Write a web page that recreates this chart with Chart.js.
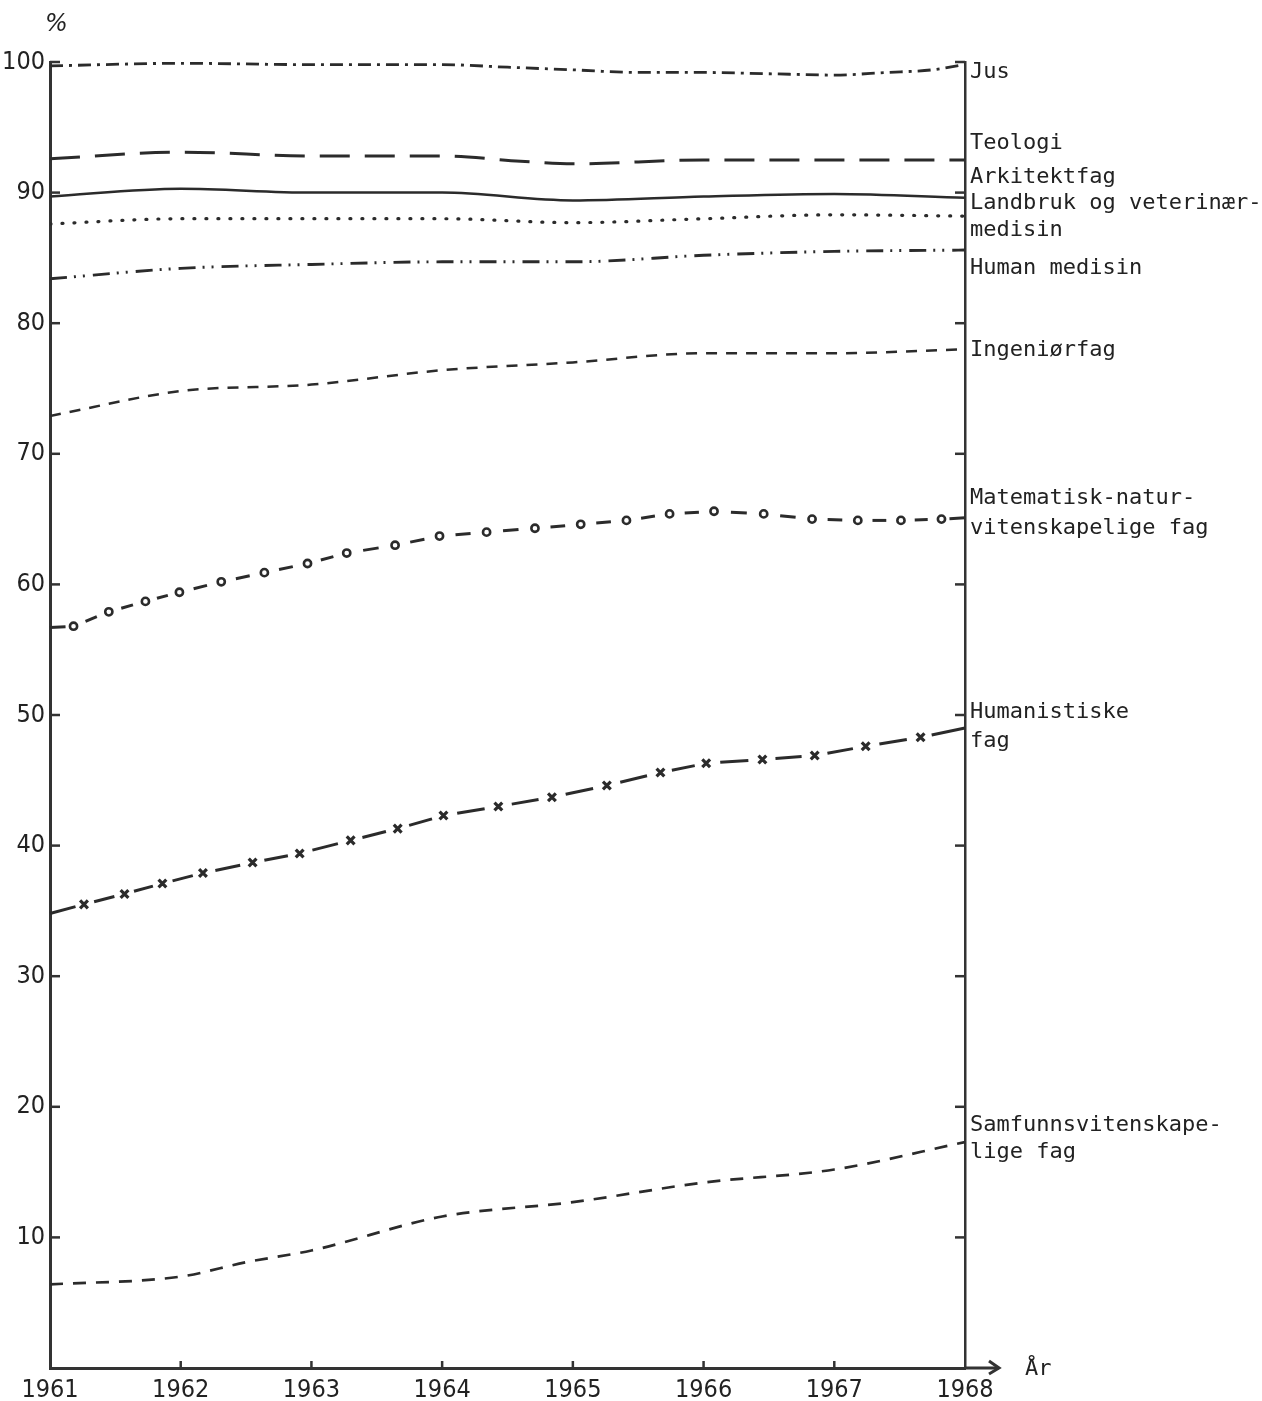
<!DOCTYPE html>
<html><head><meta charset="utf-8">
<script src="https://cdn.jsdelivr.net/npm/chart.js@4"></script>
<style>html,body{margin:0;padding:0;background:#fff;}canvas{display:block}</style>
</head><body>
<canvas id="c" width="1262" height="1401" style="width:1262px;height:1401px"></canvas>
<script>
// ---------- DATA ----------
const xTicks = [1961, 1962, 1963, 1964, 1965, 1966, 1967, 1968];
const yTicks = [10, 20, 30, 40, 50, 60, 70, 80, 90, 100];

const jusYears   = [1961, 1962, 1963, 1964, 1964.5, 1965, 1965.5, 1966, 1966.5, 1967, 1967.4, 1967.75, 1968];
const jusValues  = [99.7, 99.9, 99.8, 99.8, 99.6, 99.4, 99.2, 99.2, 99.1, 99.0, 99.2, 99.4, 99.8];

const teoYears   = [1961, 1962, 1963, 1964, 1964.6, 1965, 1966, 1967, 1968];
const teoValues  = [92.6, 93.1, 92.8, 92.8, 92.4, 92.2, 92.5, 92.5, 92.5];

const arkYears   = [1961, 1962, 1963, 1964, 1965, 1966, 1967, 1968];
const arkValues  = [89.7, 90.3, 90.0, 90.0, 89.4, 89.7, 89.9, 89.6];

const lanYears   = [1961, 1962, 1963, 1964, 1965, 1966, 1967, 1968];
const lanValues  = [87.6, 88.0, 88.0, 88.0, 87.7, 88.0, 88.3, 88.2];

const humMedYears  = [1961, 1962, 1963, 1964, 1965, 1966, 1967, 1968];
const humMedValues = [83.4, 84.2, 84.5, 84.7, 84.7, 85.2, 85.5, 85.6];

const ingYears   = [1961, 1962, 1963, 1964, 1965, 1966, 1967, 1968];
const ingValues  = [72.9, 74.8, 75.3, 76.4, 77.0, 77.7, 77.7, 78.0];

const matYears   = [1961, 1961.18, 1961.45, 1961.73, 1961.99, 1962.31, 1962.64, 1962.97, 1963.27, 1963.64, 1963.98,
                    1964.34, 1964.71, 1965.06, 1965.41, 1965.74, 1966.08, 1966.46, 1966.83, 1967.18, 1967.51, 1967.82, 1968];
const matValues  = [56.7, 56.8, 57.9, 58.7, 59.4, 60.2, 60.9, 61.6, 62.4, 63.0, 63.7,
                    64.0, 64.3, 64.6, 64.9, 65.4, 65.6, 65.4, 65.0, 64.9, 64.9, 65.0, 65.1];

const humYears   = [1961, 1961.26, 1961.57, 1961.86, 1962.17, 1962.55, 1962.91, 1963.30, 1963.66, 1964.01, 1964.43,
                    1964.84, 1965.26, 1965.67, 1966.02, 1966.45, 1966.85, 1967.24, 1967.66, 1968];
const humValues  = [34.8, 35.5, 36.3, 37.1, 37.9, 38.7, 39.4, 40.4, 41.3, 42.3, 43.0,
                    43.7, 44.6, 45.6, 46.3, 46.6, 46.9, 47.6, 48.3, 49.0];

const samYears   = [1961, 1962, 1962.5, 1963, 1964, 1965, 1966, 1967, 1968];
const samValues  = [6.4, 7.0, 8.1, 9.0, 11.6, 12.7, 14.2, 15.2, 17.3];

// right-hand labels (text lines) and the value level each line sits at
const labelLines  = ['Jus', 'Teologi', 'Arkitektfag', 'Landbruk og veterinær-', 'medisin', 'Human medisin',
                     'Ingeniørfag', 'Matematisk-natur-', 'vitenskapelige fag', 'Humanistiske', 'fag',
                     'Samfunnsvitenskape-', 'lige fag'];
const labelLevels = [99.2, 93.8, 91.2, 89.2, 87.1, 84.2, 77.9, 66.6, 64.3, 50.2, 48.0, 18.6, 16.5];

// ---------- BUILD ----------
const INK = '#2b2b2b';
const pts = (xs, ys) => xs.map((x, i) => ({x, y: ys[i]}));
const lineDs = (label, xs, ys, dash, w) => ({
  label, data: pts(xs, ys), borderColor: INK, borderWidth: w || 2.6, borderDash: dash,
  pointRadius: 0, tension: 0.2, cubicInterpolationMode: 'monotone', fill: false
});

const datasets = [
  lineDs('Jus', jusYears, jusValues, [13, 6, 3, 6], 2.8),
  lineDs('Teologi', teoYears, teoValues, [30, 15], 3),
  lineDs('Arkitektfag', arkYears, arkValues, [], 2.5),
  Object.assign(lineDs('Landbruk og veterinærmedisin', lanYears, lanValues, [1, 11], 3.2), {borderCapStyle: 'round'}),
  lineDs('Human medisin', humMedYears, humMedValues, [17, 7, 2, 7, 2, 8], 2.9),
  lineDs('Ingeniørfag', ingYears, ingValues, [11, 9], 2.5),
  {
    label: 'Matematisk-naturvitenskapelige fag', data: pts(matYears, matValues), showLine: false,
    borderColor: INK, backgroundColor: '#fff', pointStyle: 'circle',
    pointRadius: matYears.map((_, i) => (i === 0 || i === matYears.length - 1) ? 0 : 3.6),
    pointBorderWidth: 2.6, gapLine: 0.34
  },
  {
    label: 'Humanistiske fag', data: pts(humYears, humValues), showLine: false,
    borderColor: INK, backgroundColor: INK, pointStyle: 'crossRot',
    pointRadius: humYears.map((_, i) => (i === 0 || i === humYears.length - 1) ? 0 : 5.5),
    pointBorderWidth: 3.2, gapLine: 0.25
  },
  lineDs('Samfunnsvitenskapelige fag', samYears, samValues, [13, 10], 2.7)
];

const gapLines = {
  id: 'gapLines',
  afterDatasetsDraw(chart) {
    const ctx = chart.ctx;
    chart.data.datasets.forEach((ds, di) => {
      if (!ds.gapLine) return;
      const meta = chart.getDatasetMeta(di);
      const pr = ds.pointRadius;
      ctx.save();
      ctx.strokeStyle = INK; ctx.lineWidth = 3; ctx.lineCap = 'butt';
      for (let i = 0; i < meta.data.length - 1; i++) {
        const p0 = meta.data[i], p1 = meta.data[i + 1];
        const t0 = pr[i] ? ds.gapLine : 0;
        const t1 = pr[i + 1] ? 1 - ds.gapLine : 1;
        ctx.beginPath();
        ctx.moveTo(p0.x + (p1.x - p0.x) * t0, p0.y + (p1.y - p0.y) * t0);
        ctx.lineTo(p0.x + (p1.x - p0.x) * t1, p0.y + (p1.y - p0.y) * t1);
        ctx.stroke();
      }
      ctx.restore();
    });
  }
};

const decor = {
  id: 'decor',
  afterDraw(chart) {
    const {ctx, chartArea: a, scales: {x, y}} = chart;
    ctx.save();
    ctx.strokeStyle = '#333'; ctx.lineWidth = 2.5;
    yTicks.forEach(v => {
      const py = y.getPixelForValue(v);
      ctx.beginPath(); ctx.moveTo(a.left, py); ctx.lineTo(a.left + 10, py); ctx.stroke();
      ctx.beginPath(); ctx.moveTo(a.right - 10, py); ctx.lineTo(a.right, py); ctx.stroke();
    });
    xTicks.slice(1, -1).forEach(v => {
      const px = x.getPixelForValue(v);
      ctx.beginPath(); ctx.moveTo(px, a.bottom); ctx.lineTo(px, a.bottom - 7); ctx.stroke();
    });
    // axis extension with arrow
    ctx.lineWidth = 3;
    ctx.beginPath(); ctx.moveTo(a.right, a.bottom); ctx.lineTo(a.right + 34, a.bottom); ctx.stroke();
    ctx.beginPath(); ctx.moveTo(a.right + 24, a.bottom - 7); ctx.lineTo(a.right + 34, a.bottom); ctx.lineTo(a.right + 24, a.bottom + 6); ctx.stroke();
    // texts
    ctx.fillStyle = '#222';
    ctx.textBaseline = 'middle'; ctx.textAlign = 'left';
    ctx.font = '22px "DejaVu Sans Mono", "Liberation Mono", monospace';
    labelLines.forEach((t, i) => {
      ctx.fillText(t, a.right + 5, y.getPixelForValue(labelLevels[i]));
    });
    ctx.fillText('År', a.right + 60, a.bottom + 1);
    ctx.font = 'italic 24px "DejaVu Sans", sans-serif';
    ctx.fillText('%', a.left - 5, 25);
    ctx.restore();
  }
};

const tickFont = {family: '"Liberation Sans Narrow", "DejaVu Sans Condensed", "Roboto Condensed", sans-serif', size: 25};

new Chart(document.getElementById('c'), {
  type: 'line',
  data: {datasets},
  plugins: [gapLines, decor],
  options: {
    responsive: false, animation: false, devicePixelRatio: 1,
    layout: {padding: {top: 62, left: 0, right: 0, bottom: 0}},
    plugins: {legend: {display: false}, tooltip: {enabled: false}},
    scales: {
      x: {
        type: 'linear', position: 'bottom', min: 1961, max: 1968,
        afterBuildTicks: s => { s.ticks = xTicks.map(v => ({value: v})); },
        ticks: {font: tickFont, color: '#222', padding: 7, maxRotation: 0, autoSkip: false, callback: v => String(v)},
        grid: {display: false, drawTicks: false},
        border: {display: true, color: '#333', width: 3},
        afterFit: s => { s.height = 33; }
      },
      y: {
        type: 'linear', position: 'left', min: 0, max: 100,
        afterBuildTicks: s => { s.ticks = yTicks.map(v => ({value: v})); },
        ticks: {font: tickFont, color: '#222', padding: 5, callback: v => String(v)},
        grid: {display: false, drawTicks: false},
        border: {display: true, color: '#333', width: 3},
        afterFit: s => { s.width = 50; }
      },
      y2: {
        type: 'linear', position: 'right', min: 0, max: 100,
        ticks: {display: false},
        grid: {display: false, drawTicks: false},
        border: {display: true, color: '#333', width: 2.5},
        afterFit: s => { s.width = 297; }
      }
    }
  }
});
</script>
</body></html>
